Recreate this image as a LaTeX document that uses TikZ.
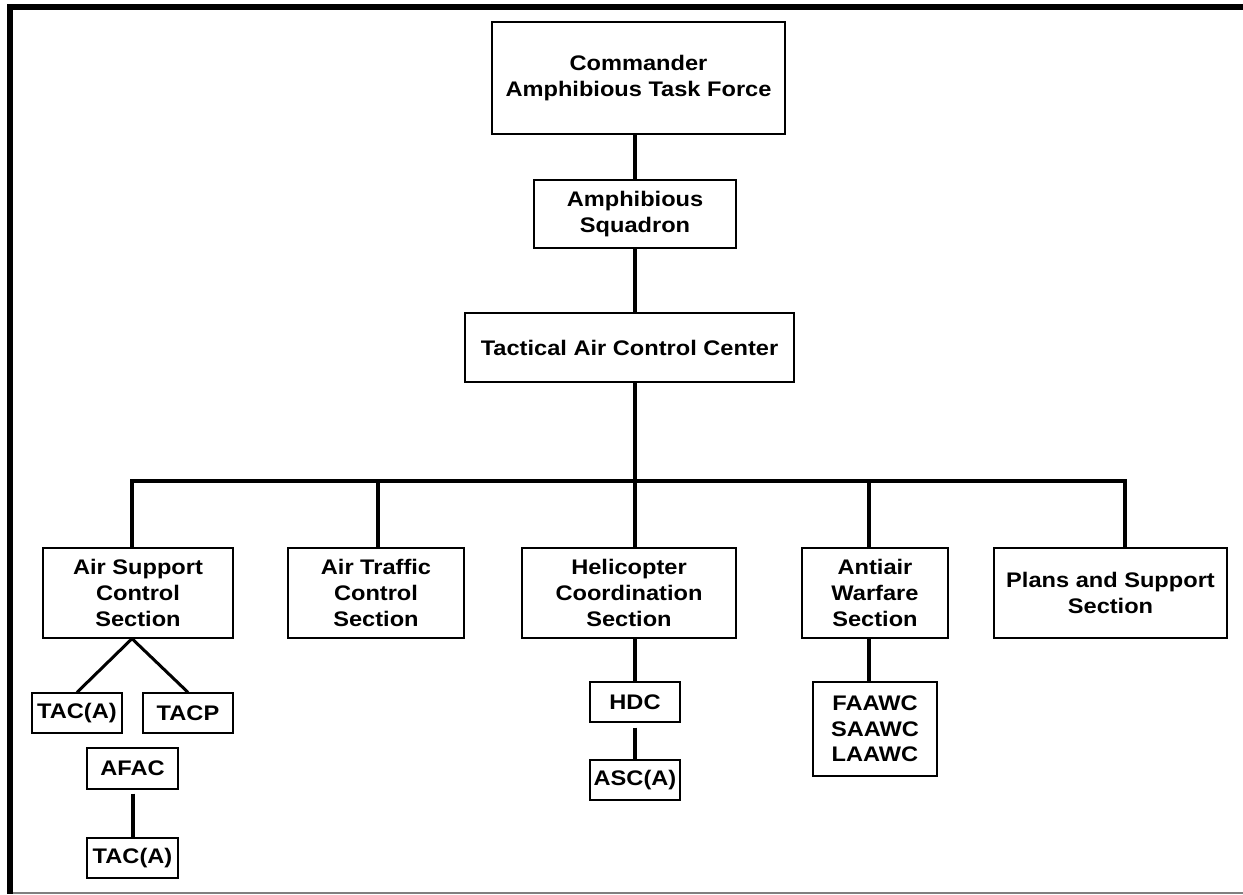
\documentclass[tikz,border=0pt]{standalone}
\usepackage{fontspec}
\setmainfont{Liberation Sans}[FakeStretch=1.12]
\usepackage{tikz}
\usetikzlibrary{calc}

\tikzset{
  box/.style={draw, line width=0.75pt, align=center, inner sep=0pt,
    font=\fontsize{12}{14.6}\selectfont\bfseries},
  link/.style={line width=0.08cm}
}

\begin{document}
\begin{tikzpicture}[x=0.02cm, y=-0.02cm]
      \useasboundingbox (0,0) rectangle (1243,894);
      % frame
      \draw[line width=0.12cm] (7,7) -- (1243,7);
      \draw[line width=0.12cm] (10,4) -- (10,894);
      \draw[gray, line width=0.6pt] (13,893) -- (1243,893);

      % top of the chain
      \node[box, minimum width=5.86cm, minimum height=2.24cm] (cmd) at (638.5,78) {Commander\\Amphibious Task Force};
      \node[box, minimum width=4.04cm, minimum height=1.36cm] (sqd) at (635,214) {Amphibious\\Squadron};
      \node[box, minimum width=6.58cm, minimum height=1.38cm] (tacc) at (629.5,347.5) {Tactical Air Control Center};

      % sections
      \node[box, minimum width=3.8cm, minimum height=1.8cm] (asc) at (138,593) {Air Support\\Control\\Section};
      \node[box, minimum width=3.52cm, minimum height=1.8cm] (atc) at (376,593) {Air Traffic\\Control\\Section};
      \node[box, minimum width=4.28cm, minimum height=1.8cm] (hcs) at (629,593) {Helicopter\\Coordination\\Section};
      \node[box, minimum width=2.92cm, minimum height=1.8cm] (aaw) at (875,593) {Antiair\\Warfare\\Section};
      \node[box, minimum width=4.66cm, minimum height=1.8cm] (pss) at (1110.5,593) {Plans and Support\\Section};

      % sub units
      \node[box, minimum width=1.8cm, minimum height=0.8cm] (taca) at (77,713) {TAC(A)};
      \node[box, minimum width=1.8cm, minimum height=0.8cm] (tacp) at (188,713) {TACP};
      \node[box, minimum width=1.82cm, minimum height=0.82cm] (afac) at (132.5,768.5) {AFAC};
      \node[box, minimum width=1.82cm, minimum height=0.8cm] (tacb) at (132.5,858) {TAC(A)};
      \node[box, minimum width=1.8cm, minimum height=0.8cm] (hdc) at (635,702) {HDC};
      \node[box, minimum width=1.8cm, minimum height=0.8cm] (asca) at (635,780) {ASC(A)};
      \node[box, minimum width=2.48cm, minimum height=1.88cm] (faawc) at (875,729) {FAAWC\\SAAWC\\LAAWC};

      % connectors
      \draw[link] (cmd.south -| sqd.north) -- (sqd.north);
      \draw[link] (sqd.south) -- (tacc.north -| sqd.south);
      \draw[link] (tacc.south -| sqd.south) -- ($(hcs.north)+(6,0)$);
      \draw[link] ($(asc.north)+(-6,0)$) |- ($(pss.north)+(14.5,-66)$) -- ($(pss.north)+(14.5,0)$);
      \draw[link] ($(atc.north)+(2,0)$) -- ++(0,-66);
      \draw[link] ($(aaw.north)+(-6,0)$) -- ++(0,-66);

      \draw[line width=0.06cm] ($(asc.south)+(-6,0)$) -- (taca.north);
      \draw[line width=0.06cm] ($(asc.south)+(-6,0)$) -- (tacp.north);
      \draw[link] ($(afac.south)+(0,4)$) -- (tacb.north);
      \draw[link] ($(hcs.south)+(6,0)$) -- (hdc.north);
      \draw[link] ($(hdc.south)+(0,5)$) -- (asca.north);
      \draw[link] ($(aaw.south)+(-6,0)$) -- ($(faawc.north)+(-6,0)$);
\end{tikzpicture}
\end{document}
